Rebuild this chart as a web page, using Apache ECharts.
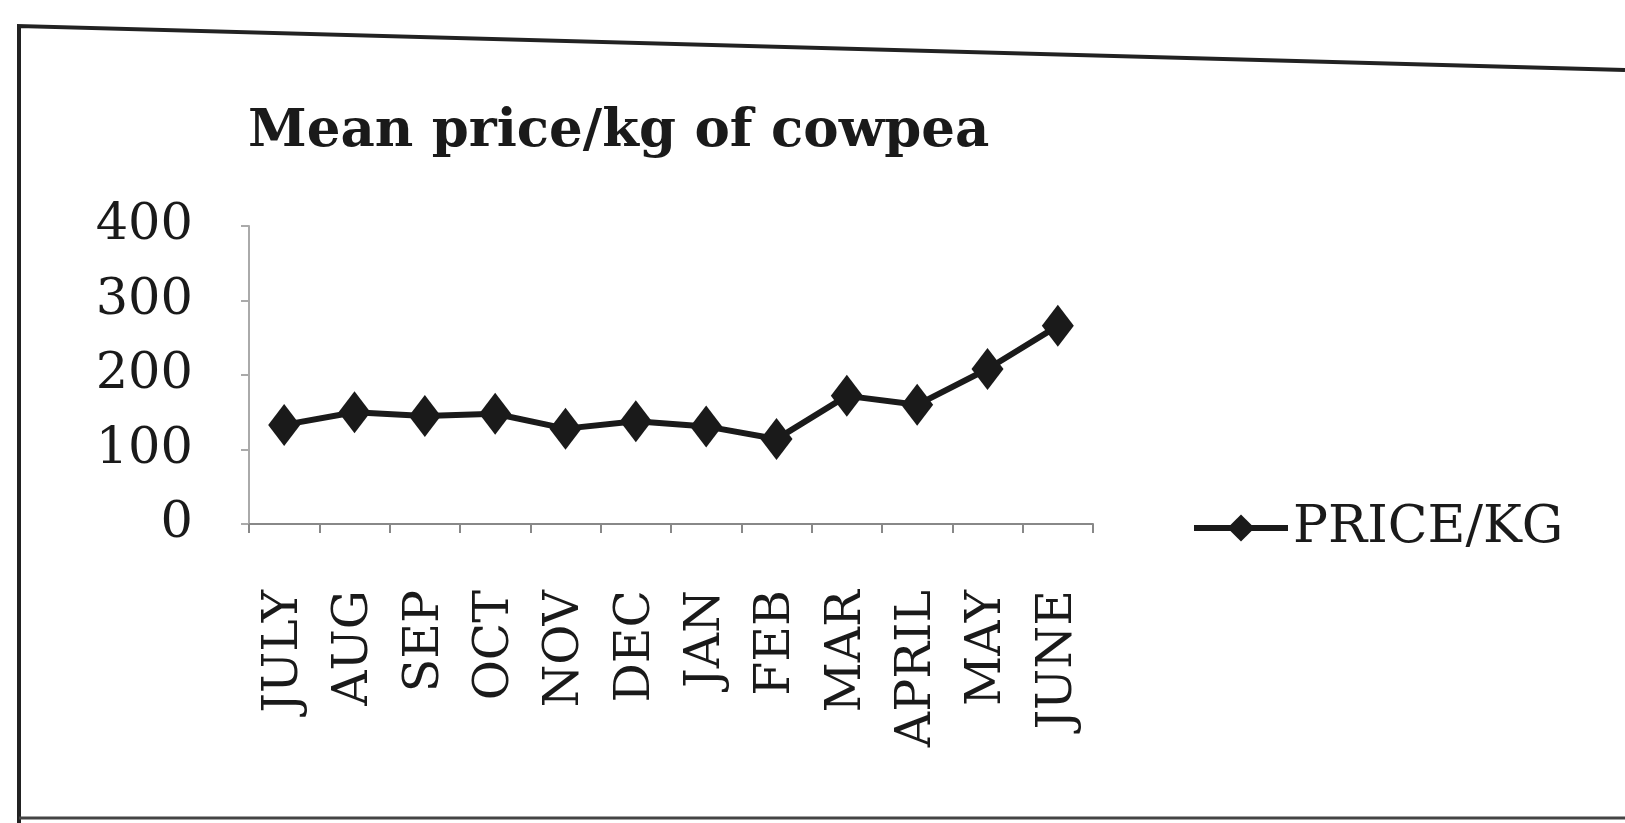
<!DOCTYPE html>
<html>
<head>
<meta charset="utf-8">
<title>Mean price/kg of cowpea</title>
<script src="https://cdn.jsdelivr.net/npm/echarts@6/dist/echarts.min.js"></script>
<style>
  html, body { margin: 0; padding: 0; background: #fff; }
  #main { width: 1625px; height: 823px; }
</style>
</head>
<body>
<div id="main"></div>
<script>
// months and mean price per kg
var months = ["JULY", "AUG", "SEP", "OCT", "NOV", "DEC", "JAN", "FEB", "MAR", "APRIL", "MAY", "JUNE"];
var pricePerKg = [133, 150, 145, 148, 128, 138, 131, 114, 172, 160, 208, 266];
var yTicks = [0, 100, 200, 300, 400];

var myChart = echarts.init(document.getElementById("main"));
var serif = "DejaVu Serif, serif";

var option = {
  backgroundColor: "#fff",
  animation: false,
  title: {
    text: "Mean price/kg of cowpea",
    left: 243,
    top: 101,
    textStyle: { fontFamily: serif, fontWeight: "bold", fontSize: 53, color: "#1a1a1a" }
  },
  legend: {
    data: ["PRICE/KG"],
    left: 1186,
    top: 497,
    itemWidth: 94,
    itemHeight: 34,
    itemGap: 4,
    lineStyle: { width: 6 },
    textStyle: { fontFamily: serif, fontSize: 52, color: "#1a1a1a" }
  },
  grid: { left: 249, right: 532, top: 226, bottom: 299 },
  xAxis: {
    type: "category",
    data: months,
    boundaryGap: true,
    axisLine: { lineStyle: { color: "#888", width: 2 } },
    axisTick: { show: true, length: 9, lineStyle: { color: "#888", width: 2 } },
    axisLabel: { rotate: 90, margin: 66, fontFamily: serif, fontSize: 49, color: "#1a1a1a" }
  },
  yAxis: {
    type: "value",
    min: yTicks[0],
    max: yTicks[yTicks.length - 1],
    interval: 100,
    splitLine: { show: false },
    axisLine: { show: true, lineStyle: { color: "#aaa", width: 2 } },
    axisTick: { show: true, length: 8, lineStyle: { color: "#aaa", width: 2 } },
    axisLabel: { margin: 56, fontFamily: serif, fontSize: 51, color: "#1a1a1a" }
  },
  series: [
    {
      name: "PRICE/KG",
      type: "line",
      data: pricePerKg,
      symbol: "diamond",
      symbolSize: [32, 42],
      lineStyle: { color: "#1a1a1a", width: 6 },
      itemStyle: { color: "#1a1a1a" }
    }
  ],
  // frame of the scanned chart box
  graphic: [
    {
      type: "polyline",
      shape: { points: [[19, 823], [19, 26], [1625, 70]] },
      style: { stroke: "#222", lineWidth: 4, fill: null }
    },
    {
      type: "line",
      shape: { x1: 19, y1: 818, x2: 1625, y2: 818 },
      style: { stroke: "#444", lineWidth: 3 }
    }
  ]
};
myChart.setOption(option);
</script>
</body>
</html>
